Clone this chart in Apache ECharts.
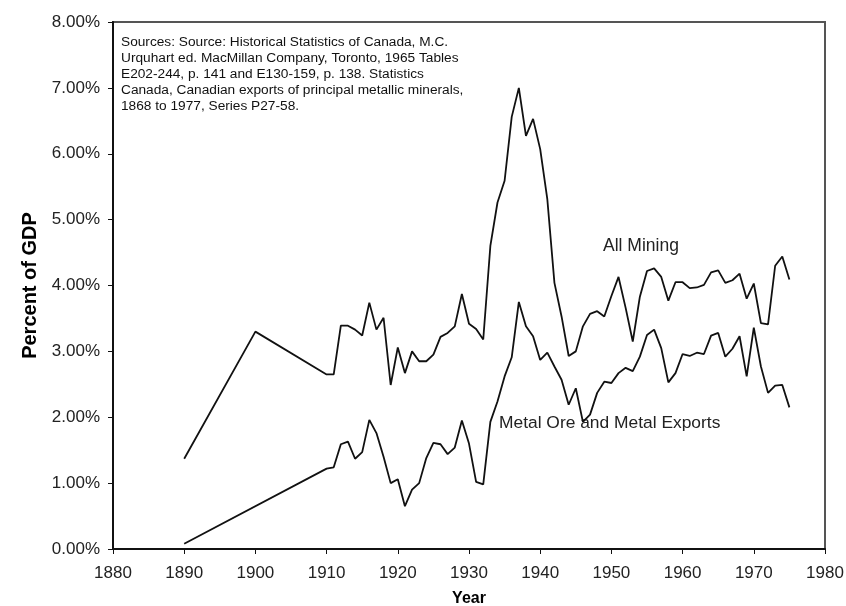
<!DOCTYPE html>
<html>
<head>
<meta charset="utf-8">
<script src="https://cdn.jsdelivr.net/npm/echarts@6/dist/echarts.min.js"></script>
<style>
  html, body { margin: 0; padding: 0; background: #fff; }
  #chart { width: 846px; height: 606px; }
</style>
</head>
<body>
<div id="chart"></div>
<script>
// years (1890, 1900, then annual from 1910)
const years = [1890, 1900,
  1910, 1911, 1912, 1913, 1914, 1915, 1916, 1917, 1918, 1919,
  1920, 1921, 1922, 1923, 1924, 1925, 1926, 1927, 1928, 1929,
  1930, 1931, 1932, 1933, 1934, 1935, 1936, 1937, 1938, 1939,
  1940, 1941, 1942, 1943, 1944, 1945, 1946, 1947, 1948, 1949,
  1950, 1951, 1952, 1953, 1954, 1955, 1956, 1957, 1958, 1959,
  1960, 1961, 1962, 1963, 1964, 1965, 1966, 1967, 1968, 1969,
  1970, 1971, 1972, 1973, 1974, 1975]

// All mining, percent of GDP
const allMining = [1.37, 3.30,
  2.65, 2.65, 3.39, 3.39, 3.33, 3.24, 3.74, 3.33, 3.51, 2.49,
  3.06, 2.67, 3.00, 2.85, 2.85, 2.95, 3.22, 3.28, 3.38, 3.87,
  3.42, 3.34, 3.18, 4.60, 5.26, 5.59, 6.56, 7.00, 6.27, 6.53,
  6.07, 5.31, 4.04, 3.53, 2.93, 3.00, 3.38, 3.57, 3.61, 3.53,
  3.84, 4.13, 3.66, 3.15, 3.83, 4.22, 4.26, 4.13, 3.77, 4.05,
  4.05, 3.96, 3.97, 4.01, 4.20, 4.23, 4.04, 4.08, 4.18, 3.80,
  4.03, 3.43, 3.41, 4.30, 4.44, 4.09]

// Metal ore and metal exports (no 1900 value)
const metalExports = [0.08, null,
  1.22, 1.24, 1.59, 1.63, 1.37, 1.47, 1.96, 1.76, 1.40, 1.00,
  1.06, 0.65, 0.90, 1.00, 1.38, 1.61, 1.59, 1.44, 1.54, 1.95,
  1.60, 1.02, 0.98, 1.93, 2.24, 2.62, 2.91, 3.75, 3.38, 3.23,
  2.87, 2.98, 2.77, 2.57, 2.19, 2.44, 1.93, 2.04, 2.37, 2.54,
  2.52, 2.67, 2.75, 2.70, 2.92, 3.25, 3.33, 3.05, 2.53, 2.67,
  2.96, 2.93, 2.98, 2.96, 3.24, 3.28, 2.92, 3.04, 3.23, 2.62,
  3.36, 2.77, 2.37, 2.48, 2.49, 2.15]

const sourceLines = [
  'Sources: Source: Historical Statistics of Canada, M.C.',
  'Urquhart ed. MacMillan Company, Toronto, 1965 Tables',
  'E202-244, p. 141 and E130-159, p. 138. Statistics',
  'Canada, Canadian exports of principal metallic minerals,',
  '1868 to 1977, Series P27-58.'
]

const font = 'Liberation Sans, Arial, sans-serif'

const pairs = (vals) => years.map((y, i) => [y, vals[i]])

const myChart = echarts.init(document.getElementById('chart'))

const option = {
  backgroundColor: '#fff',
  animation: false,
  grid: {
    left: 113,
    right: 21,
    top: 22,
    bottom: 57,
    outerBoundsMode: 'none',
    show: true,
    borderColor: '#555',
    borderWidth: 2,
    backgroundColor: '#fff'
  },
  xAxis: {
    type: 'value',
    min: 1880,
    max: 1980,
    interval: 10,
    name: 'Year',
    nameLocation: 'middle',
    nameGap: 42,
    nameTextStyle: { fontFamily: font, fontWeight: 'bold', fontSize: 16, color: '#000' },
    axisLine: { lineStyle: { color: '#111', width: 2 } },
    axisTick: { inside: false, length: 5, lineStyle: { color: '#111' } },
    axisLabel: {
      fontFamily: font, fontSize: 17, color: '#222', margin: 16,
      formatter: (v) => String(v)
    },
    splitLine: { show: false }
  },
  yAxis: {
    type: 'value',
    min: 0,
    max: 8,
    interval: 1,
    name: 'Percent of GDP',
    nameLocation: 'middle',
    nameGap: 73,
    nameTextStyle: { fontFamily: font, fontWeight: 'bold', fontSize: 20, color: '#000' },
    axisLine: { show: true, lineStyle: { color: '#111', width: 2 } },
    axisTick: { show: true, inside: false, length: 5, lineStyle: { color: '#111' } },
    axisLabel: {
      fontFamily: font, fontSize: 17, color: '#222', margin: 13,
      formatter: (v) => v.toFixed(2) + '%'
    },
    splitLine: { show: false }
  },
  graphic: [
    {
      type: 'text',
      left: 121,
      top: 34,
      style: {
        text: sourceLines.join('\n'),
        font: '13.7px ' + font,
        fill: '#111',
        lineHeight: 16
      }
    },
    {
      type: 'text',
      left: 603,
      top: 237,
      style: { text: 'All Mining', font: '17.5px ' + font, fill: '#222' }
    },
    {
      type: 'text',
      left: 499,
      top: 415,
      style: { text: 'Metal Ore and Metal Exports', font: '17.4px ' + font, fill: '#222' }
    }
  ],
  series: [
    {
      name: 'All Mining',
      type: 'line',
      data: pairs(allMining),
      symbol: 'none',
      lineStyle: { color: '#111', width: 1.8 }
    },
    {
      name: 'Metal Ore and Metal Exports',
      type: 'line',
      data: pairs(metalExports),
      connectNulls: true,
      symbol: 'none',
      lineStyle: { color: '#111', width: 1.8 }
    }
  ]
}

myChart.setOption(option)
</script>
</body>
</html>
